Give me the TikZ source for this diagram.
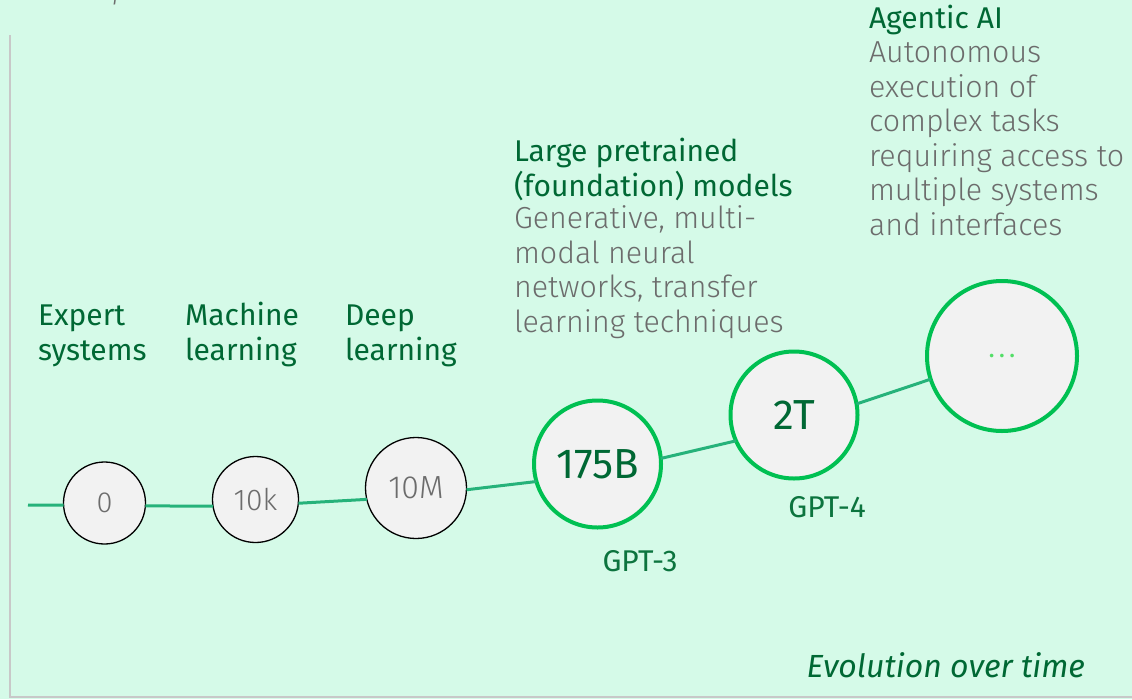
\documentclass[tikz,border=0pt]{standalone}
\usepackage{fontspec}
\setmainfont{Fira Sans}
\newfontfamily\lightfont{Fira Sans Light}
\definecolor{bg}{RGB}{213,250,232}
\definecolor{dgreen}{RGB}{0,104,52}
\definecolor{gptgreen}{RGB}{12,116,62}
\definecolor{graytext}{RGB}{108,108,108}
\definecolor{cgreen}{RGB}{0,192,82}
\definecolor{lgreen}{RGB}{38,178,122}
\definecolor{circfill}{RGB}{242,242,242}
\definecolor{axisgray}{RGB}{200,200,200}
\definecolor{dotgreen}{RGB}{84,222,104}
\begin{document}
\begin{tikzpicture}[x=1pt,y=-1pt,
  every node/.style={inner sep=0pt, outer sep=0pt},
  head/.style={anchor=base west, align=left, text=dgreen, font=\fontsize{30}{34.5}\selectfont},
  desc/.style={anchor=base west, align=left, text=graytext, font=\lightfont\fontsize{30.4}{34.5}\selectfont},
  smallc/.style={circle, draw=black, line width=1.3pt, fill=circfill, text=graytext, font=\lightfont\fontsize{30}{32}\selectfont},
  bigc/.style={circle, draw=cgreen, line width=4pt, fill=circfill, text=dgreen, font=\fontsize{42}{44}\selectfont},
  link/.style={draw=lgreen, line width=3pt},
  gpt/.style={text=gptgreen, font=\fontsize{30}{32}\selectfont},
  axisline/.style={draw=axisgray, line width=2pt},
]
\useasboundingbox (0,0) rectangle (1132,699);
\fill[bg] (0,0) rectangle (1132,699);
\begin{scope}
\clip (0,0) rectangle (1132,699);
\node[anchor=base west, text=graytext, font=\lightfont\itshape\fontsize{27}{30}\selectfont] (ylab) at (32,-1) {Model parameters};
\end{scope}
\draw[axisline] (10,35) -- (10,697) -- (1132,697);

% circles
\node[smallc, minimum size=82pt, font=\lightfont\fontsize{29}{32}\selectfont] (c0) at (104.5,503) {0};
\node[smallc, minimum size=86pt] (c1) at (255.5,499.5) {10k};
\node[smallc, minimum size=101pt, font=\lightfont\fontsize{32}{34}\selectfont] (c2) at (416,488) {10M};
\node[bigc, minimum size=127pt] (c3) at (597.5,464) {175B};
\node[bigc, minimum size=127pt] (c4) at (794,415) {2T};
\node[bigc, minimum size=150pt, text=dotgreen, font=\fontsize{26}{30}\selectfont] (c5) at (1002,356) {.\kern4pt.\kern4pt.};

% connectors
\coordinate (start) at (28,505);
\draw[link] (start) -- (c0.183);
\draw[link] (c0.-4) -- (c1.189);
\draw[link] (c1.-5) -- (c2.193.7);
\draw[link] (c2.-2) -- (c3.196);
\draw[link] (c3.5) -- (c4.204);
\draw[link] (c4.10.5) -- (c5.198);

% labels (anchor = baseline of last line)
\node[head] (h0) at (38,360) {Expert\\systems};
\node[head] (h1) at (185,360) {Machine\\learning};
\node[head] (h2) at (345,360) {Deep\\learning};
\node[head] (h3) at (514,196) {Large pretrained\\(foundation) models};
\node[desc] (d3) at (514,332) {Generative, multi-\\modal neural\\networks, transfer\\learning techniques};
\node[head] (h4) at (869,28) {Agentic AI};
\node[desc] (d4) at (869,235) {Autonomous\\execution of\\complex tasks\\requiring access to\\multiple systems\\and interfaces};

\node[gpt] (g3) at (640,561) {GPT-3};
\node[gpt] (g4) at (827,507) {GPT-4};

\node[anchor=base east, text=dgreen, font=\itshape\fontsize{32}{34}\selectfont] (evo) at (1085,677) {Evolution over time};
\end{tikzpicture}
\end{document}
